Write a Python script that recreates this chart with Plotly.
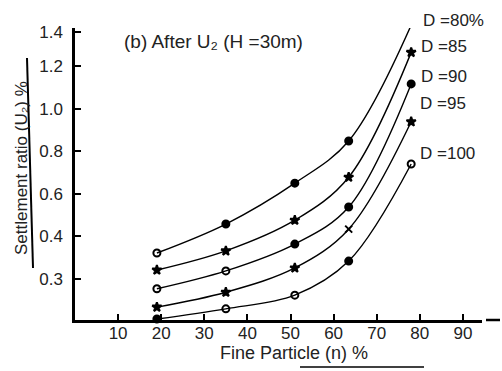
import numpy as np
import plotly.graph_objects as go

# ---- data ----
fine_particle = [19, 35, 51, 63.5, 78]          # n (%)
series_names = ["D =80%", "D =85", "D =90", "D =95", "D =100"]
u2_d80 = [0.361, 0.458, 0.650, 0.848, 1.44]
u2_d85 = [0.321, 0.366, 0.476, 0.678, 1.28]
u2_d90 = [0.277, 0.319, 0.382, 0.538, 1.116]
u2_d95 = [0.234, 0.269, 0.326, 0.434, 0.938]
u2_d100 = [0.206, 0.230, 0.262, 0.342, 0.740]

x_ticks = [10, 20, 30, 40, 50, 60, 70, 80, 90]
y_tick_labels = [0.3, 0.4, 0.6, 0.8, 1.0, 1.2, 1.4]

# the printed ordinate is not linear: labels are placed at these axis positions
y_tick_pos = [0, 1, 2, 3, 4, 5, 5.8]
map_vals = [0.1] + y_tick_labels + [1.65]
map_pos = [-2] + y_tick_pos + [6.8]


def to_axis(v):
    return np.interp(v, map_vals, map_pos)


font = "Liberation Sans"
ink = "#222"

fig = go.Figure()
series = [u2_d80, u2_d85, u2_d90, u2_d95, u2_d100]
symbols = [
    ["circle-open", "circle", "circle", "circle", "circle"],
    ["star"] * 5,
    ["circle-open", "circle-open", "circle", "circle", "circle"],
    ["star", "star", "star", "x-thin-open", "star"],
    ["circle", "circle-open", "circle-open", "circle", "circle-open"],
]
for vals, sym, name in zip(series, symbols, series_names):
    fig.add_trace(go.Scatter(
        x=fine_particle, y=to_axis(vals), mode="lines+markers", name=name,
        line=dict(color="black", width=1.4, shape="spline", smoothing=1.0),
        marker=dict(symbol=sym, size=7, color="black",
                    line=dict(color="black", width=2)),
        showlegend=False, cliponaxis=False,
    ))

# curve labels (pixel positions in the figure)
label_px = [(421, 20), (419, 47), (419, 77), (418, 103), (418, 153)]
for name, (px, py) in zip(series_names, label_px):
    fig.add_annotation(xref="paper", yref="paper", x=px / 502, y=1 - py / 371,
                       text=name, showarrow=False,
                       xanchor="left", yanchor="middle",
                       font=dict(family=font, size=17, color=ink))

fig.update_layout(
    width=502, height=371,
    margin=dict(l=0, r=0, t=0, b=0),
    paper_bgcolor="white", plot_bgcolor="white",
    xaxis=dict(
        domain=[75 / 502, 482 / 502], range=[0, (482 - 75) / 4.31],
        tickvals=x_ticks, ticktext=[str(t) for t in x_ticks],
        ticks="inside", ticklen=6, tickwidth=1.5, tickcolor="black",
        showline=True, linecolor="black", linewidth=2.5,
        showgrid=False, zeroline=False, automargin=False,
        ticklabelstandoff=-4,
        tickfont=dict(family=font, size=17, color=ink),
    ),
    yaxis=dict(
        domain=[(371 - 320) / 371, 1 - 28 / 371],
        range=[(279 - 320) / 42.6, (279 - 28) / 42.6],
        tickvals=y_tick_pos, ticktext=[f"{v:.1f}" for v in y_tick_labels],
        ticks="inside", ticklen=6, tickwidth=1.5, tickcolor="black",
        showline=True, linecolor="black", linewidth=2.5,
        showgrid=False, zeroline=False, automargin=False,
        ticklabelstandoff=6,
        tickfont=dict(family=font, size=17, color=ink),
    ),
)

# title
fig.add_annotation(xref="paper", yref="paper", x=213 / 502, y=1 - 42 / 371,
                   xanchor="center", yanchor="middle",
                   text="(b) After U₂ (H =30m)", showarrow=False,
                   font=dict(family=font, size=19, color=ink))
# axis titles
fig.add_annotation(xref="paper", yref="paper", x=294 / 502, y=1 - 353 / 371,
                   xanchor="center", yanchor="middle",
                   text="Fine Particle (n) %", showarrow=False,
                   font=dict(family=font, size=18, color=ink))
fig.add_annotation(xref="paper", yref="paper", x=21 / 502, y=1 - 168 / 371,
                   xanchor="center", yanchor="middle",
                   text="Settlement ratio (U₂) %", showarrow=False, textangle=-90,
                   font=dict(family=font, size=17, color=ink))
# underlines of the axis titles and the dashed end of the abscissa
fig.add_shape(type="line", xref="paper", yref="paper",
              x0=27 / 502, x1=33 / 502, y0=1 - 58 / 371, y1=1 - 268 / 371,
              line=dict(color="black", width=2))
fig.add_shape(type="line", xref="paper", yref="paper",
              x0=300 / 502, x1=424 / 502, y0=1 - 367 / 371, y1=1 - 367 / 371,
              line=dict(color="black", width=1.5))
fig.add_shape(type="line", xref="paper", yref="paper",
              x0=486 / 502, x1=500 / 502, y0=1 - 320 / 371, y1=1 - 320 / 371,
              line=dict(color="black", width=2.5))

fig.write_html("out.html", config={"displayModeBar": False},
               post_script="document.body.style.margin='0px';")
